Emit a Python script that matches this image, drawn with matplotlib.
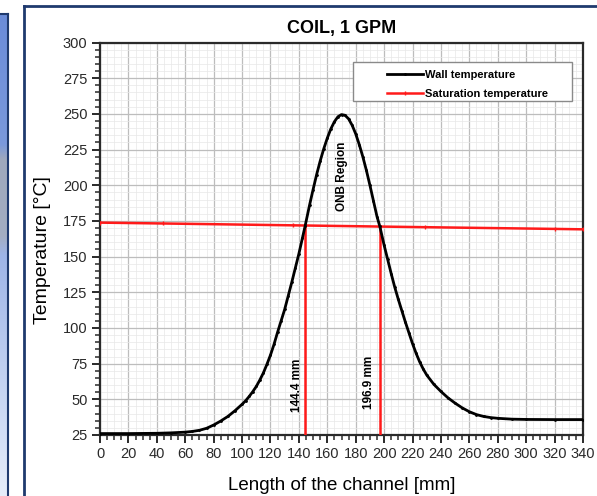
import numpy as np
import matplotlib
matplotlib.use("Agg")
import matplotlib.pyplot as plt
from matplotlib.lines import Line2D
from matplotlib.patches import Rectangle
from matplotlib.ticker import MultipleLocator

plt.rcParams['font.family'] = ['Liberation Sans', 'DejaVu Sans']

# ---- data ----
wall_x = [0, 20, 40, 50, 60, 65, 70, 75, 80, 85, 90, 95, 100, 102.5, 105, 107.5,
          110, 112.5, 115, 117.5, 120, 122.5, 125, 127.5, 130, 132.5, 135, 137.5,
          140, 142.5, 144.4, 147.5, 150, 152.5, 155, 157.5, 160, 162.5, 165, 167.5,
          170, 172.5, 175, 177.5, 180, 182.5, 185, 187.5, 190, 192.5, 195, 196.9,
          200, 202.5, 205, 207.5, 210, 212.5, 215, 217.5, 220, 222.5, 225, 227.5,
          230, 235, 240, 245, 250, 255, 260, 265, 270, 275, 280,
          290, 300, 320, 340]
wall_t = [26.0, 26.0, 26.2, 26.5, 27.0, 27.5, 28.3, 29.7, 32.0, 34.8, 38.0, 42.0,
          46.5, 49.0, 52.0, 55.3, 59.0, 63.5, 68.5, 74.5, 81.0, 88.5, 97.0, 105.0,
          113.0, 122.5, 132.0, 142.0, 152.0, 163.0, 171.5, 186.0, 197.0, 207.5,
          217.0, 225.5, 233.0, 239.5, 244.5, 248.0, 249.5, 249.0, 246.5, 242.0,
          236.0, 228.5, 220.0, 210.5, 200.0, 189.0, 178.0, 171.5, 158.0, 148.0,
          138.0, 128.5, 120.0, 112.0, 104.0, 96.5, 89.0, 82.3, 76.3, 71.3,
          67.0, 60.5, 55.5, 51.0, 47.3, 44.0, 41.3, 39.3, 38.0, 37.2, 36.7,
          36.1, 35.9, 35.8, 35.8]
sat_x = [0, 44, 136, 229, 320, 340]
sat_t = [173.8, 173.2, 171.9, 170.6, 169.4, 169.1]
onb_x = [144.4, 196.9]
onb_sat = [171.8, 171.1]
onb_labels = ["144.4 mm", "196.9 mm"]
x_ticks = list(range(0, 341, 20))
y_ticks = list(range(25, 301, 25))

W, H = 597, 496
fig = plt.figure(figsize=(W / 100, H / 100), dpi=100)

# ---- slide decoration ----
pax = fig.add_axes([0, 0, 7 / W, (H - 14) / H])
stops_pos = [0.0, 0.27, 0.30, 0.46, 0.50, 1.0]
stops_col = [(0.42, 0.55, 0.85), (0.48, 0.60, 0.86), (0.62, 0.66, 0.74),
             (0.64, 0.68, 0.76), (0.62, 0.71, 0.91), (0.90, 0.93, 0.98)]
n = 300
f = np.linspace(0, 1, n)
cols = np.zeros((n, 1, 3))
for k in range(3):
    cols[:, 0, k] = np.interp(f, stops_pos, [c[k] for c in stops_col])
pax.imshow(cols, aspect='auto', extent=[0, 1, 0, 1], origin='upper')
pax.axis('off')
fig.add_artist(Line2D([7.5 / W, 7.5 / W], [0, 1 - 14 / H], color='#1f3a6e', lw=1.5))
fig.add_artist(Line2D([0, 7.5 / W], [1 - 14 / H, 1 - 14 / H], color='#1f3a6e', lw=1.5))
fig.add_artist(Line2D([23.5 / W, 23.5 / W], [0, 1 - 6 / H], color='#1f3a6e', lw=2))
fig.add_artist(Line2D([23.5 / W, 1], [1 - 6 / H, 1 - 6 / H], color='#1f3a6e', lw=2))

# ---- main axes ----
ax = fig.add_axes([100 / W, 1 - 435 / H, 483 / W, 392.5 / H])
ax.set_xlim(0, 340)
ax.set_ylim(25, 300)
ax.set_xticks(x_ticks)
ax.set_yticks(y_ticks)
ax.xaxis.set_minor_locator(MultipleLocator(5))
ax.yaxis.set_minor_locator(MultipleLocator(5))
ax.grid(which='major', color='#bdbdbd', lw=0.9)
ax.grid(which='minor', color='#e8e8e8', lw=0.5)
ax.set_axisbelow(True)
for s in ax.spines.values():
    s.set_linewidth(1.6)
    s.set_color('#2a2a2a')
ax.tick_params(which='major', direction='out', length=6, width=1.4,
               labelsize=10.5, colors='#2a2a2a', pad=3)
ax.tick_params(which='minor', direction='out', length=3.5, width=1.1, colors='#2a2a2a')

ax.plot(wall_x, wall_t, color='black', lw=2.0, marker='.', ms=2,
        label='Wall temperature', zorder=4)
ax.plot(sat_x, sat_t, color='#ff1a1a', lw=1.8, marker='|', ms=3,
        label='Saturation temperature', zorder=3)
for xv, yv in zip(onb_x, onb_sat):
    ax.plot([xv, xv], [25, yv], color='#ff1a1a', lw=1.8, zorder=3)

ax.text(138.5, 60, onb_labels[0], rotation=90, ha='center', va='center',
        fontsize=8.5, fontweight='bold')
ax.text(189.2, 62, onb_labels[1], rotation=90, ha='center', va='center',
        fontsize=8.5, fontweight='bold')
ax.text(170, 206, 'ONB Region', rotation=90, ha='center', va='center',
        fontsize=8.5, fontweight='bold')

ax.set_title('COIL, 1 GPM', fontsize=13, fontweight='bold', pad=7)
ax.set_xlabel('Length of the channel [mm]', fontsize=13.5, labelpad=11)
ax.set_ylabel('Temperature [°C]', fontsize=14)
ax.yaxis.set_label_coords((51 - 100) / 483, (435 - 250) / 392.5)

# legend
ax.add_patch(Rectangle((0.524, 0.851), 0.453, 0.100, transform=ax.transAxes,
                       facecolor='white', edgecolor='#8a8a8a', lw=1.0, zorder=5))
leg = ax.legend(loc='upper left', bbox_to_anchor=(0.595, 0.929), frameon=False,
                prop={'weight': 'bold', 'size': 8}, handlelength=3.2,
                handletextpad=0.2, borderpad=0, borderaxespad=0, labelspacing=0.75)
leg.set_zorder(6)

fig.savefig('out.png', dpi=100, facecolor='white')
